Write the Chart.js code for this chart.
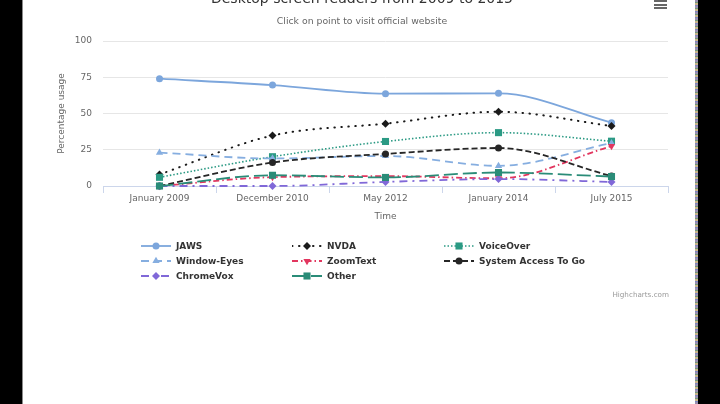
<!DOCTYPE html>
<html><head><meta charset="utf-8">
<script src="https://cdn.jsdelivr.net/npm/chart.js@4.4.1/dist/chart.umd.min.js"></script>
<style>
html,body{margin:0;padding:0;background:#000;width:720px;height:404px;overflow:hidden;font-family:"DejaVu Sans",sans-serif;}
#panel{position:absolute;left:22px;top:0;width:673px;height:404px;background:#fff;overflow:hidden}
#edge{position:absolute;left:22px;top:0;width:1px;height:404px;background:#8a8a8a}
#strip{position:absolute;left:695px;top:0;width:3px;height:404px;background:repeating-linear-gradient(180deg,#9a8fb0 0 2px,#6f9a7a 2px 3px,#c9b38a 3px 5px,#7a86c0 5px 6px)}
#cv{position:absolute;left:0;top:-10px}
.menu{position:absolute;left:654px;width:13px;height:2px;background:#666}
.lg{position:absolute;height:14px;line-height:14px;font-size:9px;font-weight:bold;color:#333;white-space:nowrap}
.lg svg{position:absolute;left:0;top:0}
.lg span{position:absolute;top:0}
#credit{position:absolute;right:51px;top:290px;font-size:7.2px;line-height:9px;color:#999}
</style></head>
<body>
<div id="panel"><canvas id="cv" width="673" height="414"></canvas></div>
<div id="edge"></div>
<div id="strip"></div>
<div class="menu" style="top:0px"></div>
<div class="menu" style="top:3.5px"></div>
<div class="menu" style="top:7px"></div>
<div id="legend"></div>
<div id="credit">Highcharts.com</div>
<script>
// ---- data ----
const categories = ['January 2009', 'December 2010', 'May 2012', 'January 2014', 'July 2015'];
const seriesNames = ['JAWS', 'NVDA', 'VoiceOver', 'Window-Eyes', 'ZoomText', 'System Access To Go', 'ChromeVox', 'Other'];
const jaws = [74, 69.6, 63.7, 63.9, 43.7];
const nvda = [8, 34.8, 43.0, 51.2, 41.4];
const voiceOver = [6, 20.2, 30.7, 36.8, 30.9];
const windowEyes = [23, 19.0, 20.7, 13.9, 29.6];
const zoomText = [0, 6.1, 6.8, 5.3, 27.5];
const systemAccess = [0, 16.2, 22.1, 26.2, 6.9];
const chromeVox = [0, 0, 2.8, 4.8, 2.8];
const other = [0, 7.4, 5.9, 9.3, 6.5];
const seriesValues = [jaws, nvda, voiceOver, windowEyes, zoomText, systemAccess, chromeVox, other];
const yTicks = [0, 25, 50, 75, 100];

// ---- styles ----
const styles = [
  {color:'#7ca6dc', dash:[], cap:'butt', point:'circle', r:3.5, rot:0, w:1.8},
  {color:'#1a1a1a', dash:[0.5,6.5], cap:'round', point:'rectRot', r:4, rot:0, w:2},
  {color:'#2b9a84', dash:[1.5,2], cap:'butt', point:'rect', r:5, rot:0, w:1.6},
  {color:'#86aee0', dash:[8,5], cap:'butt', point:'triangle', r:4.2, rot:0, w:1.8},
  {color:'#e2365f', dash:[6,3,1.5,3], cap:'butt', point:'triangle', r:4.2, rot:180, w:1.8},
  {color:'#262626', dash:[6,3], cap:'butt', point:'circle', r:3.5, rot:0, w:1.8},
  {color:'#8068d8', dash:[8,5,2,5], cap:'butt', point:'rectRot', r:4, rot:0, w:1.8},
  {color:'#2a8c78', dash:[14,5], cap:'butt', point:'rect', r:5, rot:0, w:1.8}
];

const n = seriesNames.length;
const datasets = seriesNames.map((name, i) => ({
  label: name,
  data: seriesValues[i],
  borderColor: styles[i].color,
  backgroundColor: styles[i].color,
  borderWidth: styles[i].w,
  borderDash: styles[i].dash,
  borderCapStyle: styles[i].cap,
  pointStyle: styles[i].point,
  pointRadius: styles[i].r,
  pointRotation: styles[i].rot,
  pointBorderWidth: 0,
  pointBackgroundColor: styles[i].color,
  cubicInterpolationMode: 'monotone',
  clip: false,
  fill: false,
  order: n - i
}));

const font = {family: '"DejaVu Sans", sans-serif'};

new Chart(document.getElementById('cv'), {
  type: 'line',
  data: {labels: categories, datasets},
  options: {
    responsive: false,
    devicePixelRatio: 1,
    animation: false,
    layout: {padding: {top: 0, left: 34, right: 27, bottom: 178}},
    plugins: {
      legend: {display: false},
      tooltip: {enabled: false},
      title: {
        display: true,
        text: 'Desktop screen readers from 2009 to 2015',
        color: '#333',
        font: {...font, size: 14, weight: 'normal', lineHeight: '18px'},
        padding: {top: 0, bottom: 8}
      },
      subtitle: {
        display: true,
        text: 'Click on point to visit official website',
        color: '#666',
        font: {...font, size: 9.3, lineHeight: '12px'},
        padding: {top: 0, bottom: 13}
      }
    },
    scales: {
      x: {
        type: 'category',
        offset: true,
        grid: {display: true, offset: true, drawOnChartArea: false, drawTicks: true, tickLength: 7, color: '#ccd6eb', lineWidth: 1},
        border: {display: true, color: '#ccd6eb', width: 1},
        ticks: {color: '#666', font: {...font, size: 9, lineHeight: '11px'}, padding: 0, maxRotation: 0, autoSkip: false},
        title: {display: true, text: 'Time', color: '#666', font: {...font, size: 9, lineHeight: '11px'}, padding: {top: 0, bottom: 4}},
        afterFit: s => { s.height = 40; }
      },
      y: {
        min: 0, max: 100,
        afterBuildTicks: s => { s.ticks = yTicks.map(v => ({value: v})); },
        grid: {color: '#e6e6e6', lineWidth: 1, drawTicks: false},
        border: {display: false},
        ticks: {color: '#666', font: {...font, size: 9, lineHeight: '11px'}, padding: 11},
        title: {display: true, text: 'Percentage usage', color: '#666', font: {...font, size: 9, lineHeight: '11px'}, padding: {top: 0, bottom: 0}},
        afterFit: s => { s.width = 47; }
      }
    }
  }
});

// ---- HTML legend (3 columns, Highcharts style) ----
const colX = [141, 292, 444];
const rowY = [246, 261, 276];
const legend = document.getElementById('legend');
function shapeSvg(st, cx, cy) {
  const r = st.r, c = st.color;
  if (st.point === 'circle') return `<circle cx="${cx}" cy="${cy}" r="${r}" fill="${c}"/>`;
  if (st.point === 'rect') { const h = r * Math.SQRT1_2; return `<rect x="${cx-h}" y="${cy-h}" width="${2*h}" height="${2*h}" fill="${c}"/>`; }
  if (st.point === 'rectRot') return `<polygon points="${cx},${cy-r} ${cx+r},${cy} ${cx},${cy+r} ${cx-r},${cy}" fill="${c}"/>`;
  if (st.point === 'triangle') {
    const s = st.rot === 180 ? -1 : 1;
    return `<polygon points="${cx},${cy-s*r} ${cx+0.866*r},${cy+s*0.5*r} ${cx-0.866*r},${cy+s*0.5*r}" fill="${c}"/>`;
  }
  return '';
}
seriesNames.forEach((name, i) => {
  const st = styles[i];
  const col = i % 3, row = Math.floor(i / 3);
  const d = document.createElement('div');
  d.className = 'lg';
  d.style.left = colX[col] + 'px';
  d.style.top = (rowY[row] - 7) + 'px';
  d.style.width = '160px';
  d.innerHTML = `<svg width="32" height="14"><line x1="0" y1="7" x2="30" y2="7" stroke="${st.color}" stroke-width="${st.w}" stroke-dasharray="${st.dash.join(',') || 'none'}" stroke-linecap="${st.cap}"/>${shapeSvg(st, 15, 7)}</svg><span style="left:35px">${name}</span>`;
  legend.appendChild(d);
});
</script>
</body></html>
